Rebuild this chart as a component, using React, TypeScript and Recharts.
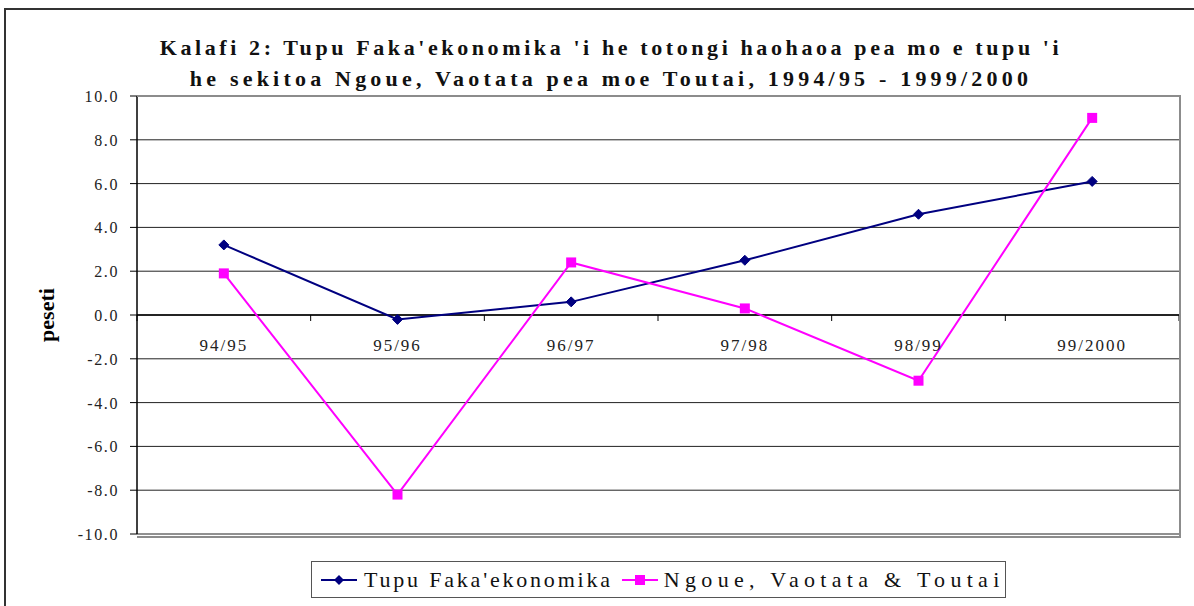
import React from 'react';
import { LineChart, Line, XAxis, YAxis, CartesianGrid, ReferenceLine } from 'recharts';

const categories = ['94/95', '95/96', '96/97', '97/98', '98/99', '99/2000'];
const economicGrowth = [3.2, -0.2, 0.6, 2.5, 4.6, 6.1];
const agricultureGrowth = [1.9, -8.2, 2.4, 0.3, -3.0, 9.0];
const yTicks = [-10, -8, -6, -4, -2, 0, 2, 4, 6, 8, 10];
const seriesNames = ["Tupu Faka'ekonomika", 'Ngoue, Vaotata & Toutai'];
const titleLines = [
  "Kalafi 2: Tupu Faka'ekonomika 'i he totongi haohaoa pea mo e tupu 'i",
  'he sekitoa Ngoue, Vaotata pea moe Toutai, 1994/95 - 1999/2000',
];

const data = categories.map((c, i) => ({
  cat: c,
  eco: economicGrowth[i],
  agr: agricultureGrowth[i],
}));

const W = 1194;
const H = 606;
const M = { top: 96, right: 15, bottom: 62, left: 0 };
const Y_AXIS_W = 137;
const X_AXIS_H = 10;
const PLOT_TOP = M.top;
const PLOT_H = H - M.top - M.bottom - X_AXIS_H;
const Y_MIN = -10;
const Y_MAX = 10;
const ZERO_Y = PLOT_TOP + (PLOT_H * (Y_MAX - 0)) / (Y_MAX - Y_MIN);

const FONT = "'Liberation Serif', serif";
const NAVY = '#000080';
const MAGENTA = '#FF00FF';

const Diamond = (props: any) => {
  const { cx, cy } = props;
  if (cx == null || cy == null) return null;
  const r = 5;
  return (
    <polygon
      points={`${cx},${cy - r} ${cx + r},${cy} ${cx},${cy + r} ${cx - r},${cy}`}
      fill={NAVY}
      stroke={NAVY}
    />
  );
};

const Square = (props: any) => {
  const { cx, cy } = props;
  if (cx == null || cy == null) return null;
  const s = 10;
  return <rect x={cx - s / 2} y={cy - s / 2} width={s} height={s} fill={MAGENTA} />;
};

const XTick = (props: any) => {
  const { x, payload, index } = props;
  const half = payload.offset || 0;
  const isLast = index === categories.length - 1;
  return (
    <g>
      <line x1={x - half} y1={ZERO_Y} x2={x - half} y2={ZERO_Y + 6} stroke="#000" strokeWidth={1} />
      {isLast && (
        <line x1={x + half} y1={ZERO_Y} x2={x + half} y2={ZERO_Y + 6} stroke="#000" strokeWidth={1} />
      )}
      <text
        x={x}
        y={ZERO_Y + 36}
        textAnchor="middle"
        style={{ fontFamily: FONT, fontSize: 17, letterSpacing: 2 }}
        fill="#222"
      >
        {payload.value}
      </text>
    </g>
  );
};

const YTick = (props: any) => {
  const { x, y, payload } = props;
  return (
    <text
      x={x}
      y={y}
      dy={6}
      textAnchor="end"
      style={{ fontFamily: FONT, fontSize: 16, letterSpacing: 1.6 }}
      fill="#222"
    >
      {Number(payload.value).toFixed(1)}
    </text>
  );
};

const YLabel = (props: any) => {
  const vb = props.viewBox || {};
  const cy = (vb.y || 0) + (vb.height || 0) / 2;
  const x = 46;
  return (
    <text
      x={x}
      y={cy}
      transform={`rotate(-90 ${x} ${cy})`}
      textAnchor="middle"
      dominantBaseline="central"
      style={{ fontFamily: FONT, fontWeight: 'bold', fontSize: 22 }}
      fill="#000"
    >
      peseti
    </text>
  );
};

const LegendBox = () => (
  <div
    style={{
      position: 'absolute',
      left: 311,
      top: 561,
      width: 693,
      height: 35,
      border: '1.5px solid #555',
      display: 'flex',
      alignItems: 'center',
      fontFamily: FONT,
      fontSize: 22,
      color: '#111',
      boxSizing: 'content-box',
      whiteSpace: 'nowrap',
    }}
  >
    <svg width={40} height={20} style={{ marginLeft: 7 }}>
      <line x1={2} y1={10} x2={38} y2={10} stroke={NAVY} strokeWidth={2} />
      <polygon points="20,5 25,10 20,15 15,10" fill={NAVY} />
    </svg>
    <span style={{ marginLeft: 5, letterSpacing: 2.8 }}>{seriesNames[0]}</span>
    <svg width={38} height={20} style={{ marginLeft: 8 }}>
      <line x1={1} y1={10} x2={37} y2={10} stroke={MAGENTA} strokeWidth={2} />
      <rect x={14} y={5} width={10} height={10} fill={MAGENTA} />
    </svg>
    <span style={{ marginLeft: 5, letterSpacing: 5.3 }}>{seriesNames[1]}</span>
  </div>
);

export default function App() {
  return (
    <div style={{ position: 'absolute', left: 0, top: 0, width: W, height: H, background: '#fff', overflow: 'hidden' }}>
      <div
        style={{
          position: 'absolute',
          left: 4,
          top: 8,
          width: W,
          height: H,
          borderLeft: '2.5px solid #333',
          borderTop: '2.5px solid #333',
        }}
      />
      <div
        style={{
          position: 'absolute',
          left: 0,
          top: 32,
          width: 1222,
          textAlign: 'center',
          fontFamily: FONT,
          fontWeight: 'bold',
          fontSize: 22,
          letterSpacing: 3.6,
          lineHeight: '31px',
          color: '#111',
          whiteSpace: 'nowrap',
        }}
      >
        <div>{titleLines[0]}</div>
        <div style={{ letterSpacing: 4.2 }}>{titleLines[1]}</div>
      </div>
      <div style={{ position: 'absolute', left: 0, top: 0 }}>
        <LineChart width={W} height={H} data={data} margin={M}>
          <CartesianGrid horizontal vertical={false} stroke="#222" strokeWidth={1} />
          <XAxis
            dataKey="cat"
            scale="band"
            height={X_AXIS_H}
            axisLine={false}
            tickLine={false}
            tick={<XTick />}
            interval={0}
          />
          <YAxis
            width={Y_AXIS_W}
            domain={[Y_MIN, Y_MAX]}
            ticks={yTicks}
            interval={0}
            tickSize={7}
            tickMargin={11}
            axisLine={{ stroke: '#000', strokeWidth: 1.5 }}
            tickLine={{ stroke: '#000' }}
            tick={<YTick />}
            label={<YLabel />}
          />
          <ReferenceLine y={0} stroke="#000" strokeWidth={1.5} />
          <Line
            type="linear"
            dataKey="eco"
            stroke={NAVY}
            strokeWidth={2}
            dot={<Diamond />}
            activeDot={false}
            isAnimationActive={false}
          />
          <Line
            type="linear"
            dataKey="agr"
            stroke={MAGENTA}
            strokeWidth={2}
            dot={<Square />}
            activeDot={false}
            isAnimationActive={false}
          />
        </LineChart>
      </div>
      <div
        style={{
          position: 'absolute',
          left: 137,
          top: 95,
          width: 1179 - 137,
          height: 534 - 95,
          borderTop: '2px solid #8c8c8c',
          borderRight: '2px solid #8c8c8c',
          borderBottom: '2px solid #8c8c8c',
          pointerEvents: 'none',
        }}
      />
      <LegendBox />
    </div>
  );
}
